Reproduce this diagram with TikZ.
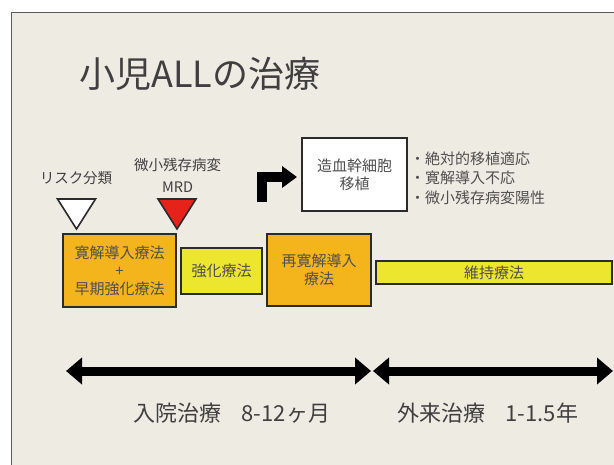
\documentclass[tikz,border=0pt]{standalone}
\usepackage{fontspec}
\setmainfont{Noto Sans CJK JP}
\usetikzlibrary{arrows.meta}
\definecolor{slidebg}{HTML}{EEEBE3}
\definecolor{slideedge}{HTML}{5A5A5A}
\definecolor{orangefill}{HTML}{F4B41C}
\definecolor{yellowfill}{HTML}{ECE62E}
\definecolor{boxedge}{HTML}{2B2B2B}
\definecolor{boxtext}{HTML}{4F4F4F}
\definecolor{labeltext}{HTML}{3F3F3F}
\definecolor{redtri}{HTML}{E5231B}
\tikzset{
  phase/.style={draw=boxedge, line width=2pt, inner sep=0pt, align=center,
    text=boxtext, font=\fontsize{15}{18}\selectfont},
  orangebox/.style={phase, fill=orangefill},
  yellowbox/.style={phase, fill=yellowfill},
  whitebox/.style={phase, fill=white},
  lbl/.style={text=labeltext, inner sep=0pt, font=\fontsize{14.5}{18}\selectfont},
  bottomlbl/.style={text=labeltext, inner sep=0pt, font=\fontsize{22}{24}\selectfont},
  marker/.style={draw=boxedge, line width=1.6pt, line join=miter},
  period/.style={line width=9pt, {Triangle[length=16pt,width=26pt]}-{Triangle[length=16pt,width=26pt]}},
}
\begin{document}
\begin{tikzpicture}[x=1pt,y=-1pt]
\useasboundingbox (0,0) rectangle (614,464);
\fill[white] (0,0) rectangle (614,464);
\draw[fill=slidebg, draw=slideedge, line width=1pt] (11,12) rectangle (640,490);

% title
\node[anchor=west, inner sep=0pt, text=labeltext, font=\fontsize{36}{40}\selectfont] (title) at (79,74) {小児ALLの治療};

% phase boxes
\node[orangebox, minimum width=113pt, minimum height=73pt] (induct) at (119.5,270.5) {寛解導入療法\\+\\早期強化療法};
\node[yellowbox, minimum width=81pt, minimum height=46pt] (consol) at (221.5,271) {強化療法};
\node[orangebox, minimum width=104pt, minimum height=72pt] (reind) at (319,270) {再寛解導入\\療法};
\node[yellowbox, minimum width=236pt, minimum height=23pt] (maint) at (494,272.5) {維持療法};
\node[whitebox, minimum width=105pt, minimum height=73pt] (hsct) at (354.5,174.5) {造血幹細胞\\移植};

% indications
\node[lbl, anchor=west, align=left, text=boxtext, font=\fontsize{15}{19.5}\selectfont] (indic) at (410,178) {・絶対的移植適応\\・寛解導入不応\\・微小残存病変陽性};

% markers
\node[lbl] (risk) at (76,178) {リスク分類};
\node[lbl] (mrdjp) at (177.5,165) {微小残存病変};
\node[lbl] (mrd) at (177.5,187) {MRD};
\draw[marker, fill=white] (57.5,199) -- (95.5,199) -- (76.5,229) -- cycle;
\draw[marker, fill=redtri] (158,199) -- (196,199) -- (177,229) -- cycle;

% bent arrow to transplant
\coordinate (bentstart) at (262,202);
\draw[line width=10pt, line join=miter, -{Triangle[length=15pt,width=21pt]}] (bentstart) |- ([xshift=-4pt,yshift=-2.5pt]hsct.west);

% timeline
\coordinate (tl) at (66,371);
\coordinate (tm) at (372,371);
\coordinate (tr) at (613,371);
\draw[period] (tl) -- ([xshift=-1pt]tm);
\draw[period] ([xshift=1pt]tm) -- (tr);

\node[bottomlbl] (inpat) at (232,413) {入院治療\hspace{0.9em}8-12ヶ月};
\node[bottomlbl] (outpat) at (488,413) {外来治療\hspace{0.9em}1-1.5年};
\end{tikzpicture}
\end{document}
